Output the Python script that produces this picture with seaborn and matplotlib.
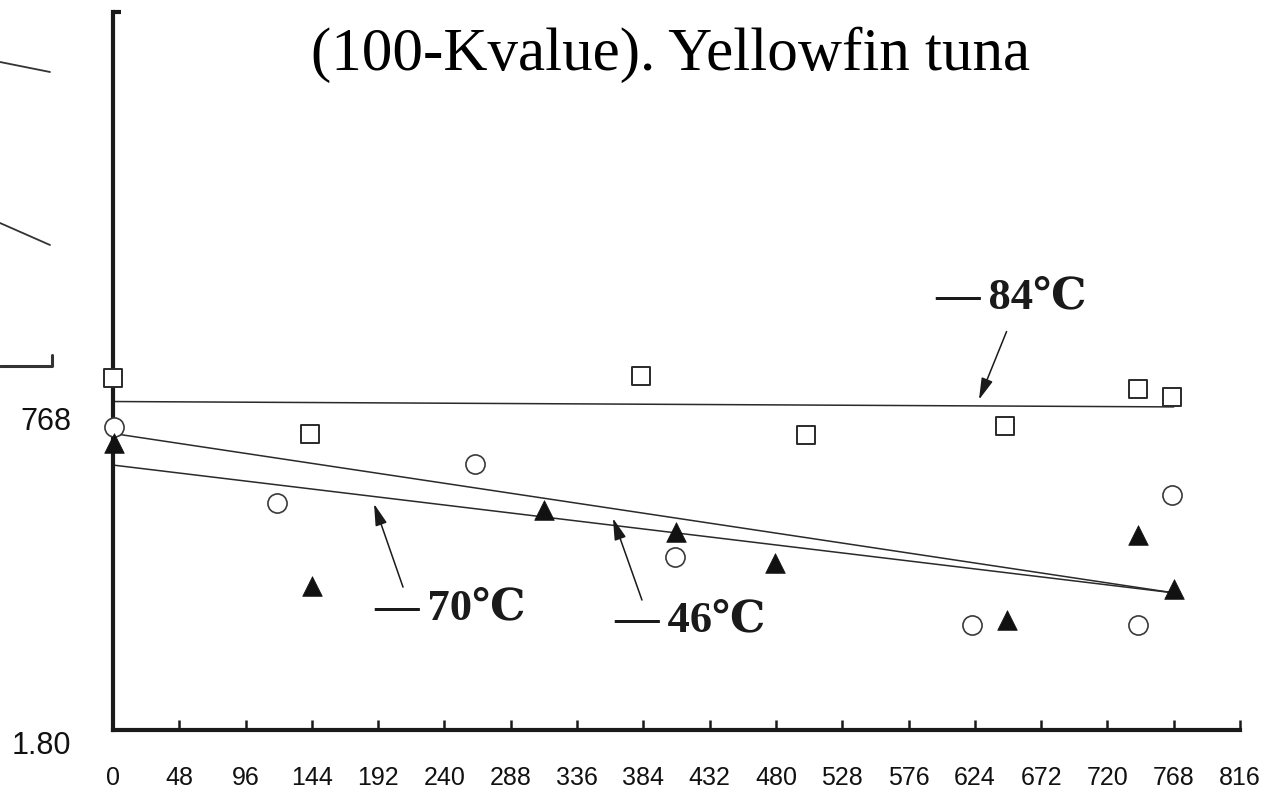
import numpy as np
import pandas as pd
import matplotlib
matplotlib.use("Agg")
import matplotlib.pyplot as plt
import seaborn as sns
from matplotlib.lines import Line2D

# ---------------- data ----------------
x_ticks = [0, 48, 96, 144, 192, 240, 288, 336, 384, 432, 480, 528, 576, 624, 672, 720, 768, 816]
x_tick_labels = [str(v) for v in x_ticks]
y_tick_values = [43.4, -1.7]
y_tick_labels = ["768", "1.80"]

# -84 C (open squares)
sq_x = [0, 143, 382, 502, 646, 742, 767]
sq_y = [49.0, 41.2, 49.3, 41.1, 42.4, 47.5, 46.4]
# open circles
ci_x = [1, 119, 262, 407, 622, 742, 767]
ci_y = [42.2, 31.6, 37.0, 24.1, 14.6, 14.6, 32.7]
# filled triangles
tr_x = [1, 144, 312, 408, 479, 647, 742, 768]
tr_y = [40.0, 20.0, 30.7, 27.6, 23.2, 15.3, 27.2, 19.7]

# fitted lines
fit_x = [0, 768]
fit84_y = [45.75, 45.0]
fit46_y = [41.3, 19.1]
fit70_y = [36.9, 19.1]

title_text = "(100-Kvalue). Yellowfin tuna"
label_texts = ["\u2014\u200984\u2103", "\u2014\u200970\u2103", "\u2014\u200946\u2103"]
label_pos = [(650, 60.2), (244, 17.0), (418, 15.2)]
arrow_tails = [(647, 55.5), (210, 19.9), (383, 18.1)]
arrow_tips = [(627, 46.0), (189, 31.5), (362, 29.5)]

# ---------------- figure ----------------
sns.set_theme(style="white")
plt.rcParams["font.family"] = ["Liberation Sans", "DejaVu Sans"]

fig = plt.figure(figsize=(12.81, 7.90), dpi=100)
ax = fig.add_axes([0.08821, 0.02595, 0.87978, 0.96158])

line_kw = dict(color="#2a2a2a", linewidth=1.1, legend=False)
sns.lineplot(x=fit_x, y=fit84_y, ax=ax, **line_kw)
sns.lineplot(x=fit_x, y=fit46_y, ax=ax, **line_kw)
sns.lineplot(x=fit_x, y=fit70_y, ax=ax, **line_kw)

sns.scatterplot(x=sq_x, y=sq_y, ax=ax, marker="s", s=150, facecolor="white",
                edgecolor="#2a2a2a", linewidth=1.4, clip_on=False, zorder=5)
sns.scatterplot(x=ci_x, y=ci_y, ax=ax, marker="o", s=190, facecolor="white",
                edgecolor="#3a3a3a", linewidth=1.2, clip_on=False, zorder=5)
sns.scatterplot(x=tr_x, y=tr_y, ax=ax, marker="^", s=200, color="#111111",
                edgecolor="#111111", linewidth=0.5, clip_on=False, zorder=5)

ax.set_xlim(0, 816)
ax.set_ylim(-5.5, 100.3)

for s in ["top", "right"]:
    ax.spines[s].set_visible(False)
ax.spines["bottom"].set_position(("data", 0))
ax.spines["bottom"].set_bounds(0, 816)
ax.spines["left"].set_bounds(0, 100)
for s in ["bottom", "left"]:
    ax.spines[s].set_linewidth(3.0)
    ax.spines[s].set_color("#1a1a1a")
    ax.spines[s].set_capstyle("projecting")

ax.set_xticks(x_ticks)
ax.set_xticklabels(x_tick_labels)
ax.set_yticks(y_tick_values)
ax.set_yticklabels(y_tick_labels)
ax.set_yticks([100], minor=True)

ax.tick_params(axis="x", which="major", bottom=True, direction="in", length=7, width=1.8,
               color="#1a1a1a", labelsize=18, pad=26, labelcolor="#111111")
ax.tick_params(axis="y", which="major", left=True, length=0, labelsize=22, pad=30,
               labelcolor="#111111")
ax.tick_params(axis="y", which="minor", left=True, direction="in", length=6, width=3.0,
               color="#1a1a1a")
ax.set_xlabel("")
ax.set_ylabel("")
ax.grid(False)

# annotations
lab_font = dict(family=["Liberation Serif", "DejaVu Serif", "Noto Sans CJK JP"],
                fontsize=32, fontweight="bold", color="#1a1a1a")
for txt, pos in zip(label_texts, label_pos):
    ax.text(pos[0], pos[1], txt, ha="center", va="center", **lab_font)
for tail, tip in zip(arrow_tails, arrow_tips):
    ax.annotate("", xy=tip, xytext=tail,
                arrowprops=dict(arrowstyle="-|>,head_length=1.1,head_width=0.3",
                                color="#1a1a1a", lw=1.1, shrinkA=0, shrinkB=0))

# title
fig.text(0.5238, 1 - 70 / 790, title_text, ha="center", va="baseline",
         family=["Liberation Serif", "DejaVu Serif"], fontsize=44, color="black")

# fragments of the neighbouring panel on the left edge
W, H = 1281.0, 790.0
frag = [([0, 50], [62, 72]), ([0, 50], [223, 245]), ([0, 52, 52], [366, 366, 355])]
for xs, ys in frag:
    fig.add_artist(Line2D([v / W for v in xs], [1 - v / H for v in ys],
                          transform=fig.transFigure, color="#333333", lw=1.3 if len(xs) == 2 else 2.2))

fig.savefig("out.png", dpi=100)
